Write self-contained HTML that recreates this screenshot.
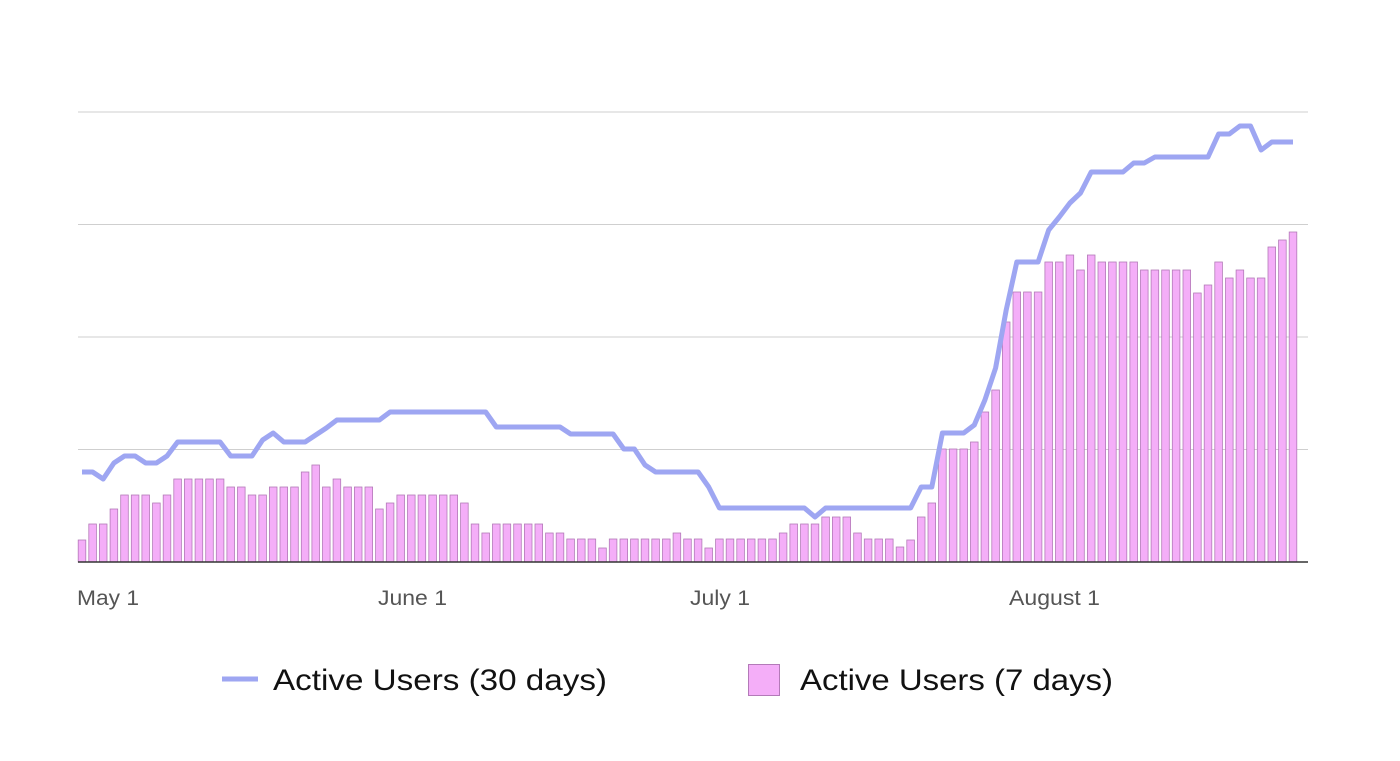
<!DOCTYPE html>
<html><head><meta charset="utf-8"><style>
html,body{margin:0;padding:0;background:#fff;width:1400px;height:761px;overflow:hidden}
svg{display:block}
text{font-family:"Liberation Sans",sans-serif}
</style></head><body>
<svg id="c" width="1400" height="761" xmlns="http://www.w3.org/2000/svg">
<g stroke="#cfcfcf" stroke-width="1">
<line x1="78" y1="112" x2="1308" y2="112"/>
<line x1="78" y1="224.5" x2="1308" y2="224.5"/>
<line x1="78" y1="337" x2="1308" y2="337"/>
<line x1="78" y1="449.5" x2="1308" y2="449.5"/>
</g>
<g id="bars" fill="#f4aef8" stroke="#b37ab8" stroke-width="0.8"></g>
<line x1="78" y1="562" x2="1308" y2="562" stroke="#333" stroke-width="1.5"/>
<polyline id="ln" fill="none" stroke="#9ea6f2" stroke-width="5" stroke-linejoin="round"/>
<g fill="#555" font-size="21">
<text x="77" y="605" textLength="62" lengthAdjust="spacingAndGlyphs">May 1</text>
<text x="378" y="605" textLength="69" lengthAdjust="spacingAndGlyphs">June 1</text>
<text x="690" y="605" textLength="60" lengthAdjust="spacingAndGlyphs">July 1</text>
<text x="1009" y="605" textLength="91" lengthAdjust="spacingAndGlyphs">August 1</text>
</g>
<line x1="222" y1="679" x2="258" y2="679" stroke="#9ea6f2" stroke-width="5"/>
<text x="273" y="690" font-size="30" fill="#111" textLength="334" lengthAdjust="spacingAndGlyphs">Active Users (30 days)</text>
<rect x="748.5" y="664.5" width="31" height="31" fill="#f4aef8" stroke="#b37ab8" stroke-width="1"/>
<text x="800" y="690" font-size="30" fill="#111" textLength="313" lengthAdjust="spacingAndGlyphs">Active Users (7 days)</text>
</svg>
<script>
var b=[540,524,524,509,495,495,495,503,495,479,479,479,479,479,487,487,495,495,487,487,487,472,465,487,479,487,487,487,509,503,495,495,495,495,495,495,503,524,533,
524,524,524,524,524,533,533,539,539,539,548,539,539,539,539,539,539,533,539,539,548,539,539,539,539,539,539,533,524,524,524,517,517,517,533,539,539,539,547,540,517,
503,449,449,449,442,412,390,322,292,292,292,262,262,255,270,255,262,262,262,262,270,270,270,270,270,293,285,262,278,270,278,278,247,240,232];
var l=[472,472,479,463,456,456,463,463,456,442,442,442,442,442,456,456,456,440,433,442,442,442,435,428,420,420,420,420,420,412,412,412,412,412,412,412,412,412,412,
427,427,427,427,427,427,427,434,434,434,434,434,449,449,465,472,472,472,472,472,487,508,508,508,508,508,508,508,508,508,517,508,508,508,508,508,508,508,508,508,487,
487,433,433,433,425,400,368,310,262,262,262,230,217,203,193,172,172,172,172,163,163,157,157,157,157,157,157,134,134,126,126,150,142,142,142];
var g=document.getElementById('bars'),s='',p=[],st=(1293-82)/114;
for(var i=0;i<115;i++){var x=82+i*st;s+='<rect x="'+(x-3.8).toFixed(1)+'" y="'+b[i]+'" width="7.6" height="'+(562-b[i])+'"/>';p.push(x.toFixed(1)+','+l[i]);}
g.innerHTML=s;document.getElementById('ln').setAttribute('points',p.join(' '));
</script>
</body></html>
